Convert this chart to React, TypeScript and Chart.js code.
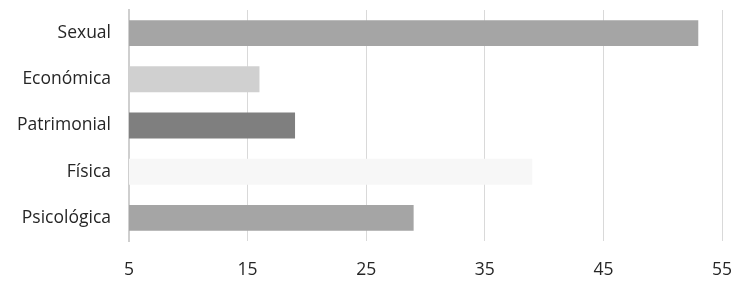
import React, { useEffect, useRef } from "react";
import { Chart, registerables } from "chart.js";

Chart.register(...registerables);

const categories = ["Sexual", "Económica", "Patrimonial", "Física", "Psicológica"];
const values = [53, 16, 19, 39, 29];
const barColors = ["#a5a5a5", "#d0d0d0", "#7f7f7f", "#f7f7f7", "#a5a5a5"];
const xMin = 5;
const xMax = 55;
const xStep = 10;

export default function App() {
  const ref = useRef<HTMLCanvasElement | null>(null);
  useEffect(() => {
    document.body.style.margin = "0";
    const ctx = ref.current!;
    const chart = new Chart(ctx, {
      type: "bar",
      data: {
        labels: categories,
        datasets: [
          {
            data: values,
            backgroundColor: barColors,
            borderWidth: 0,
            categoryPercentage: 1,
            barPercentage: 0.56,
          },
        ],
      },
      options: {
        indexAxis: "y",
        animation: false,
        responsive: false,
        maintainAspectRatio: false,
        layout: { padding: { left: 0, right: 14, top: 10, bottom: 0 } },
        plugins: { legend: { display: false }, tooltip: { enabled: false } },
        scales: {
          x: {
            min: xMin,
            max: xMax,
            ticks: {
              stepSize: xStep,
              color: "#262626",
              padding: 19,
              font: { family: "Open Sans", size: 17.5 },
            },
            grid: {
              color: (c: any) => (c.index === 0 ? "rgba(0,0,0,0)" : "#d9d9d9"),
              drawTicks: false,
              lineWidth: 1,
            },
            border: { display: false },
            afterFit: (s: any) => {
              s.height = 41;
              s.paddingLeft = 0;
              s.paddingRight = 0;
            },
          },
          y: {
            ticks: {
              color: "#262626",
              padding: 18,
              font: { family: "Open Sans", size: 17.5 },
            },
            grid: { display: false, drawTicks: false },
            border: { display: true, color: "#cfcfcf", width: 2 },
            afterFit: (s: any) => {
              s.width = 129;
              s.paddingTop = 0;
              s.paddingBottom = 0;
            },
          },
        },
      },
    });
    return () => chart.destroy();
  }, []);
  return <canvas ref={ref} width={736} height={282} style={{ display: "block" }} />;
}
